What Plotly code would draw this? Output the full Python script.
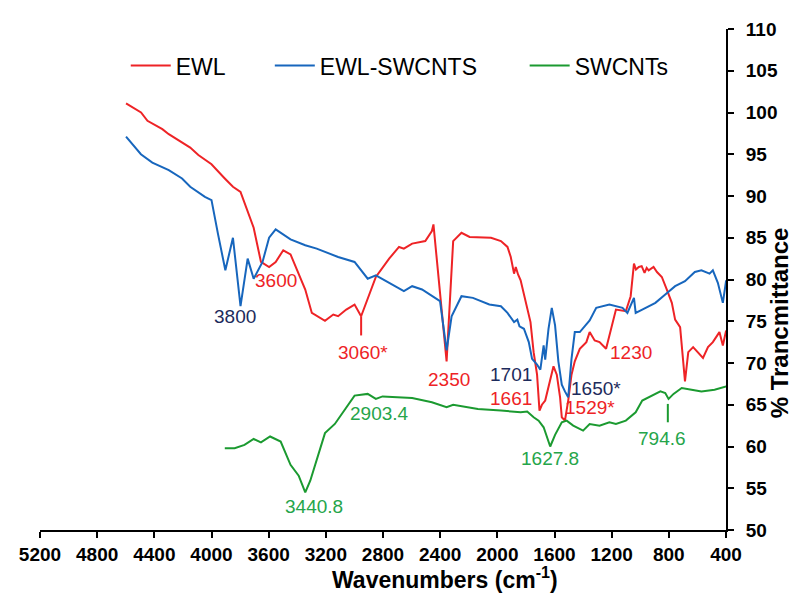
import plotly.graph_objects as go

# ---------------- data ----------------
ewl_wn = [4598, 4493, 4448, 4344, 4299, 4206, 4149, 4092, 4000, 3907, 3850, 3797, 3747, 3705,
          3654, 3597, 3551, 3498, 3447, 3390, 3344, 3298, 3206, 3148, 3114, 3057, 2999, 2953,
          2918, 2850, 2757, 2688, 2654, 2596, 2504, 2458, 2447, 2355, 2309, 2251, 2194, 2044,
          1975, 1929, 1906, 1883, 1871, 1855, 1837, 1803, 1768, 1746, 1722, 1705, 1688, 1665,
          1630, 1607, 1584, 1561, 1549, 1527, 1504, 1481, 1458, 1423, 1377, 1354, 1319, 1285,
          1239, 1204, 1170, 1101, 1067, 1044, 1030, 1010, 990, 970, 955, 941, 907, 883, 849,
          814, 779, 756, 721, 687, 664, 630, 595, 561, 526, 492, 446, 422, 399]
ewl_val = [101.1, 100.0, 99.0, 98.0, 97.4, 96.4, 95.8, 94.9, 93.8, 92.1, 91.1, 90.5, 88.2, 86.2,
           82.1, 81.5, 82.1, 83.5, 83.0, 80.7, 78.8, 76.0, 75.05, 75.8, 75.6, 76.4, 77.0, 75.6,
           77.2, 80.3, 82.5, 83.9, 83.7, 84.3, 84.6, 85.8, 86.6, 70.2, 84.6, 85.6, 85.1, 85.0,
           84.6, 83.9, 82.7, 80.7, 81.5, 80.6, 79.9, 77.6, 74.9, 71.3, 68.6, 64.3, 65.0, 65.5,
           67.8, 69.6, 68.6, 65.9, 63.5, 63.1, 65.5, 68.6, 70.2, 71.7, 72.5, 73.7, 72.7, 72.5,
           71.7, 74.1, 76.4, 76.2, 78.0, 81.9, 81.2, 81.5, 81.6, 80.8, 81.4, 81.1, 81.5, 80.9, 80.3,
           78.8, 77.2, 75.2, 74.3, 67.8, 71.3, 71.9, 71.3, 70.6, 71.9, 72.5, 73.7, 72.1, 73.9]

sw_ewl_wn = [4598, 4494, 4414, 4299, 4206, 4149, 4046, 4000, 3954, 3903, 3850, 3797, 3747, 3705,
             3643, 3597, 3551, 3447, 3344, 3264, 3114, 2999, 2907, 2850, 2654, 2596, 2527, 2401,
             2355, 2320, 2251, 2171, 2056, 1975, 1929, 1883, 1860, 1845, 1814, 1780, 1757, 1722,
             1699, 1676, 1665, 1642, 1619, 1596, 1573, 1549, 1527, 1504, 1481, 1458, 1423, 1354,
             1308, 1216, 1124, 1090, 1044, 1032, 986, 894, 825, 756, 687, 618, 572,
             515, 492, 457, 422, 399]
sw_ewl_val = [97.1, 95.0, 94.0, 93.1, 92.1, 91.1, 89.9, 89.5, 85.4, 81.1, 85.0, 76.8, 82.5, 80.1,
              82.1, 85.0, 86.0, 84.8, 84.1, 83.7, 82.7, 82.1, 80.1, 80.5, 78.6, 79.2, 78.8, 77.4,
              71.5, 75.6, 78.0, 77.8, 77.0, 76.8, 76.0, 74.9, 75.2, 74.4, 74.1, 72.5, 70.5, 69.8,
              69.2, 72.1, 70.4, 74.1, 76.6, 74.5, 70.2, 67.4, 66.6, 65.9, 70.5, 73.7, 73.7, 75.1,
              76.6, 77.0, 76.6, 76.0, 77.8, 76.0, 76.4, 77.2, 78.2, 79.2, 79.8, 80.9, 81.1,
              80.7, 81.1, 79.6, 77.2, 79.9]

swcnt_wn = [3907, 3838, 3769, 3705, 3654, 3590, 3516, 3447, 3390, 3344, 3309, 3264, 3206, 3137,
            3057, 2999, 2907, 2850, 2803, 2596, 2458, 2355, 2309, 2136, 1975, 1837, 1791, 1746,
            1711, 1676, 1630, 1596, 1549, 1515, 1469, 1400, 1354, 1285, 1216, 1170, 1101, 1032,
            986, 917, 859, 825, 802, 767, 710, 641, 572, 480, 399]
swcnt_val = [59.8, 59.8, 60.2, 60.9, 60.5, 61.2, 60.6, 57.8, 56.5, 54.5, 55.9, 58.4, 61.6, 62.7,
             64.7, 66.1, 66.3, 65.7, 66.0, 65.8, 65.3, 64.7, 65.0, 64.5, 64.3, 64.1, 64.2, 63.5,
             63.1, 62.3, 60.0, 61.4, 62.9, 63.1, 62.5, 61.9, 62.7, 62.5, 62.9, 62.7, 63.1, 64.1,
             65.5, 66.1, 66.6, 66.4, 65.7, 66.3, 67.0, 66.8, 66.6, 66.8, 67.2]

x_ticks = [5200, 4800, 4400, 4000, 3600, 3200, 2800, 2400, 2000, 1600, 1200, 800, 400]
y_ticks = [50, 55, 60, 65, 70, 75, 80, 85, 90, 95, 100, 105, 110]

# peak labels: text, wavenumber, value, colour key
peak_text = ["3600", "3800", "3060*", "2350", "1701", "1661", "1650*", "1529*", "1230",
             "2903.4", "3440.8", "1627.8", "794.6"]
peak_wn = [3551, 3838, 2941, 2339, 1906, 1906, 1308, 1354, 1067, 2826, 3285, 1635, 849]
peak_val = [79.9, 75.6, 71.3, 68.0, 68.6, 65.7, 67.0, 64.7, 71.3, 63.9, 52.8, 58.6, 61.0]
peak_col = ["red", "navy", "red", "red", "navy", "red", "navy", "red", "red",
            "green", "green", "green", "green"]

# small vertical marker ticks under peaks
marker_wn = [2953, 807]
marker_top = [75.6, 65.1]
marker_bot = [73.3, 62.9]
marker_col = ["red", "green"]

# ---------------- style ----------------
RED = "#ee2326"
BLUE = "#1766bd"
GREEN = "#1b9a30"
NAVY = "#1d2b5c"
GREEN_TXT = "#25a54a"
text_colors = {"red": RED, "navy": NAVY, "green": GREEN_TXT}
line_colors = {"red": RED, "green": GREEN}
FONT = "Arial, Liberation Sans, Helvetica, sans-serif"

fig = go.Figure()
fig.add_trace(go.Scatter(x=ewl_wn, y=ewl_val, mode="lines", name="EWL",
                         line=dict(color=RED, width=2), legend="legend"))
fig.add_trace(go.Scatter(x=sw_ewl_wn, y=sw_ewl_val, mode="lines", name="EWL-SWCNTS",
                         line=dict(color=BLUE, width=2), legend="legend2"))
fig.add_trace(go.Scatter(x=swcnt_wn, y=swcnt_val, mode="lines", name="SWCNTs",
                         line=dict(color=GREEN, width=2), legend="legend3"))

for w, t, b, c in zip(marker_wn, marker_top, marker_bot, marker_col):
    fig.add_shape(type="line", x0=w, x1=w, y0=t, y1=b, xref="x", yref="y",
                  line=dict(color=line_colors[c], width=2))

for txt, w, v, c in zip(peak_text, peak_wn, peak_val, peak_col):
    fig.add_annotation(x=w, y=v, text=txt, showarrow=False, xref="x", yref="y",
                       font=dict(family=FONT, size=19, color=text_colors[c]))

# axis titles
fig.add_annotation(x=0.591, y=-0.130, xref="paper", yref="paper",
                   text="<b>Wavenumbers (cm<sup>-1</sup>)</b>", showarrow=False,
                   font=dict(family=FONT, size=23, color="black"))
fig.add_annotation(x=1.101, y=0.414, xref="paper", yref="paper", textangle=-90,
                   text="<b>% Trancmittance</b>", showarrow=False,
                   font=dict(family=FONT, size=24, color="black"))

legend_font = dict(family=FONT, size=23, color="black")
leg_common = dict(orientation="h", y=0.927, xanchor="left", yanchor="middle",
                  font=legend_font, bgcolor="rgba(0,0,0,0)", itemwidth=40)

fig.update_layout(
    width=800, height=603,
    margin=dict(l=23, r=82, t=11, b=81),
    paper_bgcolor="white", plot_bgcolor="white",
    showlegend=True,
    legend=dict(x=0.125, **leg_common),
    legend2=dict(x=0.335, **leg_common),
    legend3=dict(x=0.7065, **leg_common),
    xaxis=dict(range=[5200, 400], tickvals=x_ticks, ticktext=[str(v) for v in x_ticks],
               showgrid=False, zeroline=False, showline=True, linecolor="black", linewidth=2,
               ticks="outside", ticklen=6, tickwidth=2, tickcolor="black",
               tickfont=dict(family=FONT, size=19, color="black", weight="bold")),
    yaxis=dict(range=[50, 110], tickvals=y_ticks, side="right", anchor="x",
               showgrid=False, zeroline=False, showline=True, linecolor="black", linewidth=2,
               ticks="outside", ticklen=6, tickwidth=2, tickcolor="black",
               ticklabelstandoff=8,
               tickfont=dict(family=FONT, size=19, color="black", weight="bold")),
)

fig.write_html("out.html")
